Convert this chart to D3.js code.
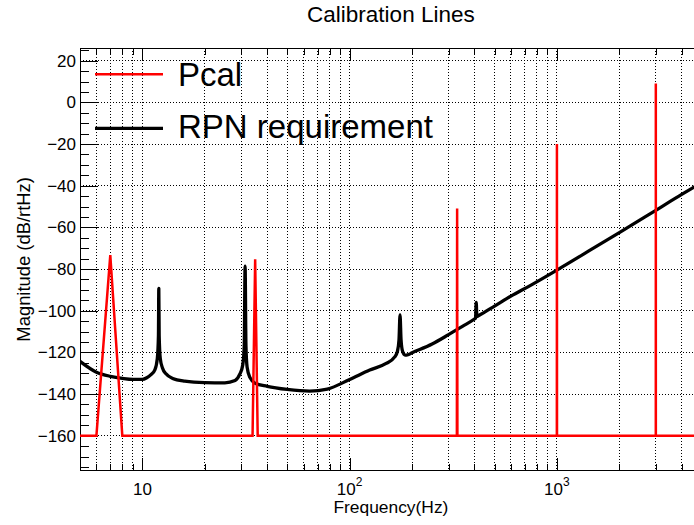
<!DOCTYPE html>
<html>
<head>
<meta charset="utf-8">
<title>Calibration Lines</title>
<script src="https://cdn.jsdelivr.net/npm/d3@7"></script>
<style>
  body { margin: 0; background: #fff; overflow: hidden; }
  svg { display: block; font-family: "Liberation Sans", Arial, Helvetica, sans-serif; }
  .grid line { stroke: #000; stroke-width: 1; stroke-dasharray: 1,2; shape-rendering: crispEdges; }
  .axis path { display: none; }
  .axis line { stroke: #000; shape-rendering: crispEdges; }
  .axis text { fill: #000; }
</style>
</head>
<body>
<svg width="694" height="525"></svg>
<script>
// RPN requirement curve (Hz, dB/rtHz)
var rpnFreq = [5, 6, 7, 8, 9, 10, 10.5, 11, 11.5, 11.8, 11.95, 12, 12.05, 12.2, 12.5, 13, 14, 16, 20, 25, 28,
  29.5, 30.5, 31, 31.3, 31.6, 32, 33, 35, 40, 50, 64, 78, 100, 125, 150, 165, 170, 173, 175, 177,
  180, 185, 190, 200, 250, 300, 350, 400, 405, 408, 411, 420, 500, 600, 750, 1000, 1500, 2000, 3000, 4000, 5000];
var rpnMag = [-124.3, -129.5, -131.5, -132.5, -133, -133, -132.2, -130.7, -128.3, -123, -112, -89.3, -112, -123, -127.5, -130.3, -132.5, -133.8, -134.5, -134.6, -133.5,
  -130.5, -126, -117, -78.6, -117, -127, -132, -134.8, -136.3, -137.8, -138.6, -137.6, -133, -128.5, -125.3, -122.2, -119.5, -114, -102, -114,
  -119.5, -121.3, -121.2, -120.2, -116, -111.5, -107.5, -104, -103.6, -96, -102.8, -102.3, -97.8, -93, -87.7, -80.5, -70, -62.5, -51.8, -44.2, -38.5];

// Pcal lines
var pcalFreq = [7, 35, 330, 1000, 3000];
var pcalMag = [-73.3, -75.3, -51, -20, 9];
var pcalFloor = -160;

// axes
var xDomain = [5, 5000];
var yDomain = [-176.8, 26.1];
var xLabelExp = [1, 2, 3];
var yMajorTicks = [-160, -140, -120, -100, -80, -60, -40, -20, 0, 20];

var svg = d3.select("svg");
var pL = 80, pR = 701.8, pT = 48, pB = 470.7;

var x = d3.scaleLog().domain(xDomain).range([pL, pR]);
var y = d3.scaleLinear().domain(yDomain).range([pB, pT]);

svg.append("defs").append("clipPath").attr("id", "clip")
  .append("rect").attr("x", pL).attr("y", pT).attr("width", pR - pL).attr("height", pB - pT);

// grid
var xMinor = x.ticks();
svg.append("g").attr("class", "grid")
  .selectAll("line").data(xMinor).join("line")
  .attr("x1", d => x(d)).attr("x2", d => x(d))
  .attr("y1", pT).attr("y2", pB);
svg.append("g").attr("class", "grid")
  .selectAll("line").data(yMajorTicks).join("line")
  .attr("x1", pL).attr("x2", pR)
  .attr("y1", d => y(d)).attr("y2", d => y(d));

// ticks (inside the frame, ROOT style)
var yMinor = d3.range(-175, 26, 5);
svg.append("g").attr("class", "axis").attr("transform", "translate(" + pL + ",0)")
  .call(d3.axisLeft(y).tickValues(yMinor).tickSize(-9).tickFormat(""));
svg.append("g").attr("class", "axis").attr("transform", "translate(" + pL + ",0)")
  .call(d3.axisLeft(y).tickValues(yMajorTicks).tickSize(-18).tickPadding(4)
    .tickFormat(d => d < 0 ? "\u2212" + Math.abs(d) : d))
  .selectAll("text").style("font-size", "17px");

var xMajor = xLabelExp.map(e => Math.pow(10, e));
[[pB, 1], [pT, -1]].forEach(function (p) {
  var g = svg.append("g").attr("class", "axis").attr("transform", "translate(0," + p[0] + ")");
  g.call((p[1] > 0 ? d3.axisBottom(x) : d3.axisTop(x)).tickValues(xMinor).tickSize(-7).tickFormat(""));
  var g2 = svg.append("g").attr("class", "axis").attr("transform", "translate(0," + p[0] + ")");
  g2.call((p[1] > 0 ? d3.axisBottom(x) : d3.axisTop(x)).tickValues(xMajor).tickSize(-13).tickFormat(""));
});

// x tick labels with exponents
var xl = svg.append("g").selectAll("text").data(xLabelExp).join("text")
  .attr("x", d => x(Math.pow(10, d)))
  .attr("y", 495)
  .attr("text-anchor", "middle")
  .style("font-size", "17px");
xl.append("tspan").text("10");
xl.filter(d => d > 1).append("tspan").attr("dy", -9).style("font-size", "12px").text(d => d);

// frame
svg.append("rect").attr("x", pL).attr("y", pT).attr("width", pR - pL).attr("height", pB - pT)
  .attr("fill", "none").attr("stroke", "#000").attr("stroke-width", 1).attr("shape-rendering", "crispEdges");

// curves
var line = d3.line().x(d => x(d[0])).y(d => y(d[1]));
var smooth = d3.line().x(d => x(d[0])).y(d => y(d[1])).curve(d3.curveMonotoneX);
var plot = svg.append("g").attr("clip-path", "url(#clip)");

var rpn = rpnFreq.map((f, i) => [f, rpnMag[i]]);
plot.append("path").datum(rpn).attr("d", smooth)
  .attr("fill", "none").attr("stroke", "#000").attr("stroke-width", 3.3).attr("stroke-linejoin", "round");

var pcal = [[xDomain[0], pcalFloor]];
pcalFreq.forEach(function (f, i) {
  pcal.push([f - 1, pcalFloor], [f, pcalMag[i]], [f + 1, pcalFloor]);
});
pcal.push([xDomain[1], pcalFloor]);
plot.append("path").datum(pcal).attr("d", line)
  .attr("fill", "none").attr("stroke", "#ff0000").attr("stroke-width", 2.5);

// legend
var legend = [["Pcal", "#ff0000", 2.5, 74.3, 86], ["RPN requirement", "#000", 3.3, 128.3, 138.3]];
legend.forEach(function (l) {
  svg.append("line").attr("x1", 95).attr("x2", 163).attr("y1", l[3]).attr("y2", l[3])
    .attr("stroke", l[1]).attr("stroke-width", l[2]);
  svg.append("text").attr("x", 178).attr("y", l[4]).style("font-size", "33px").text(l[0]);
});

// titles
svg.append("text").attr("x", (pL + pR) / 2).attr("y", 22).attr("text-anchor", "middle")
  .style("font-size", "22.5px").text("Calibration Lines");
svg.append("text").attr("x", (pL + pR) / 2).attr("y", 513).attr("text-anchor", "middle")
  .style("font-size", "17.4px").text("Frequency(Hz)");
svg.append("text").attr("transform", "translate(29.5," + (pT + pB) / 2 + ") rotate(-90)")
  .attr("text-anchor", "middle").style("font-size", "18.4px").text("Magnitude (dB/rtHz)");
</script>
</body>
</html>
